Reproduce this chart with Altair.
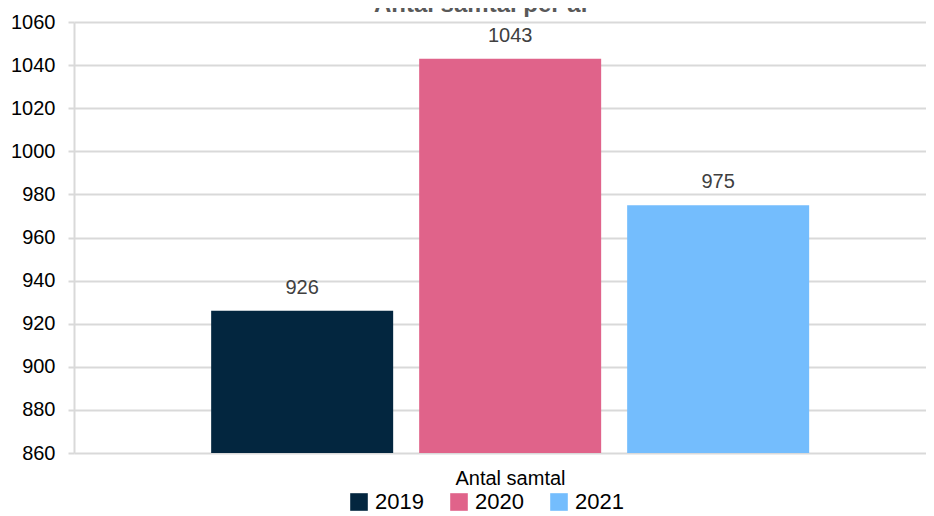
import altair as alt
import pandas as pd

years = ["2019", "2020", "2021"]
values = [926, 1043, 975]
colors = ["#03263f", "#e0638a", "#74bdfd"]
y_ticks = list(range(860, 1061, 20))
title_text = "Antal samtal per år"
x_title = "Antal samtal"

df = pd.DataFrame({"year": years, "value": values})
FONT = "Liberation Sans"
GRID = "#d9d9d9"

x_enc = alt.X(
    "year:N",
    sort=years,
    scale=alt.Scale(paddingInner=0.125, paddingOuter=0.6106, align=0.54),
    axis=alt.Axis(
        labels=False, ticks=False, domain=False, grid=False,
        title=x_title, titleFontSize=20, titleFontWeight="normal",
        titleColor="#000000", titlePadding=15, titleX=436, titleFont=FONT,
    ),
)
y_scale = alt.Scale(domain=[860, 1060], zero=False, nice=False)

bars = alt.Chart(df).mark_bar().encode(
    x=x_enc,
    y=alt.Y(
        "value:Q",
        scale=y_scale,
        axis=alt.Axis(
            values=y_ticks, format="d", title=None, grid=True, gridColor=GRID, gridWidth=2,
            domain=True, domainColor=GRID, domainWidth=2,
            ticks=True, tickColor=GRID, tickWidth=2, tickSize=6,
            labelFontSize=20, labelColor="#000000", labelPadding=13, labelFont=FONT,
        ),
    ),
    y2=alt.datum(860),
    color=alt.Color(
        "year:N",
        scale=alt.Scale(domain=years, range=colors),
        legend=alt.Legend(
            title=None, orient="none", direction="horizontal",
            legendX=274, legendY=469, symbolType="square", symbolSize=310,
            symbolStrokeWidth=0, labelFontSize=22, labelColor="#000000",
            labelFont=FONT, labelOffset=5, columnPadding=24, padding=0,
        ),
    ),
)

labels = alt.Chart(df).mark_text(
    dy=-17, baseline="alphabetic", fontSize=20, color="#404040", font=FONT
).encode(
    x=alt.X("year:N", sort=years),
    y=alt.Y("value:Q", scale=y_scale),
    text=alt.Text("value:Q"),
)

title_df = pd.DataFrame({"t": [title_text]})
title = alt.Chart(title_df).mark_text(
    fontSize=24, fontWeight="bold", color="#595959", font=FONT,
    baseline="alphabetic", align="center",
).encode(
    x=alt.value(408), y=alt.value(-10), text="t:N"
)

chart = alt.layer(bars, labels, title).properties(
    width=852, height=431,
    padding={"left": 66, "top": 14, "right": 0, "bottom": 60},
    autosize=alt.AutoSizeParams(type="none"),
).configure_view(stroke=None)

chart.save("out.html", embed_options={"renderer": "svg", "actions": False})
